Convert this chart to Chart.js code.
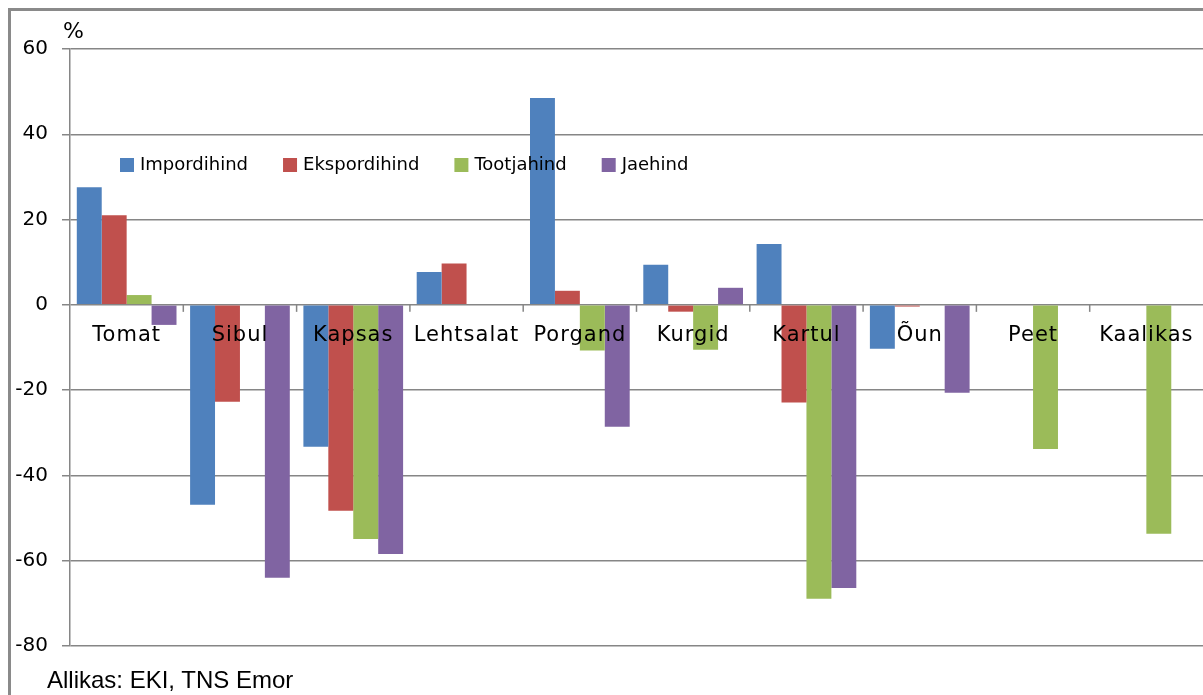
<!DOCTYPE html>
<html>
<head>
<meta charset="utf-8">
<script src="https://cdn.jsdelivr.net/npm/chart.js@4/dist/chart.umd.min.js"></script>
<style>
  body { margin: 0; background: #fff; }
  #wrap { position: relative; width: 1203px; height: 695px; overflow: hidden; }
  #frame { position: absolute; left: 8px; top: 8px; width: 1300px; height: 800px;
           border-left: 3px solid #8a8a8a; border-top: 3px solid #8a8a8a; }
  #source { position: absolute; left: 47px; top: 666px; font: 24px "Liberation Sans", Arial, sans-serif; color: #000; }
</style>
</head>
<body>
<div id="wrap">
  <div id="frame"></div>
  <canvas id="grafico" width="1203" height="695"></canvas>
  <div id="source">Allikas: EKI, TNS Emor</div>
</div>
<script>
var kategooriad = ['Tomat', 'Sibul', 'Kapsas', 'Lehtsalat', 'Porgand', 'Kurgid', 'Kartul', 'Õun', 'Peet', 'Kaalikas'];
var impordihind = [27.6, -46.9, -33.3, 7.7, 48.5, 9.4, 14.3, -10.3, null, null];
var ekspordihind = [21.0, -22.7, -48.3, 9.7, 3.3, -1.6, -22.9, -0.4, null, null];
var tootjahind = [2.3, null, -54.9, null, -10.7, -10.5, -68.9, null, -33.8, -53.7];
var jaehind = [-4.7, -64.0, -58.4, null, -28.6, 4.0, -66.4, -20.6, null, null];
var yTicks = [60, 40, 20, 0, -20, -40, -60, -80];

document.addEventListener("DOMContentLoaded", function () {
    var canvas = document.getElementById('grafico');
    var ctx = canvas.getContext('2d');

    // silte, legend ja jaotusmärgid joonistatakse otse nulljoone juurde
    var overlay = {
        id: 'overlay',
        afterDatasetsDraw: function (chart) {
            var c = chart.ctx, area = chart.chartArea;
            var x = chart.scales.x, y = chart.scales.y;
            var y0 = y.getPixelForValue(0);
            c.save();
            c.strokeStyle = '#868686';
            c.lineWidth = 1.5;
            for (var i = 1; i < kategooriad.length; i++) {
                var px = (x.getPixelForValue(i - 1) + x.getPixelForValue(i)) / 2;
                c.beginPath();
                c.moveTo(px, y0);
                c.lineTo(px, y0 + 7);
                c.stroke();
            }
            c.fillStyle = '#000';
            c.font = '21px "DejaVu Sans"';
            c.letterSpacing = '1px';
            c.textAlign = 'center';
            c.textBaseline = 'middle';
            kategooriad.forEach(function (k, i) {
                c.fillText(k, x.getPixelForValue(i), y0 + 31);
            });

            // legend
            c.textAlign = 'left';
            c.font = '18px "DejaVu Sans"';
            c.letterSpacing = '0px';
            var lx = area.left + 50, ly = 165;
            chart.data.datasets.forEach(function (ds) {
                c.fillStyle = ds.backgroundColor;
                c.fillRect(lx, ly - 7, 14, 14);
                c.fillStyle = '#000';
                c.fillText(ds.label, lx + 20, ly);
                lx += 20 + c.measureText(ds.label).width + 35;
            });

            c.font = '22px "DejaVu Sans"';
            c.fillText('%', area.left - 7, area.top - 17);
            c.restore();
        }
    };

    new Chart(ctx, {
        type: 'bar',
        data: {
            labels: kategooriad,
            datasets: [
                { label: 'Impordihind', data: impordihind, backgroundColor: '#4F81BD' },
                { label: 'Ekspordihind', data: ekspordihind, backgroundColor: '#C0504D' },
                { label: 'Tootjahind', data: tootjahind, backgroundColor: '#9BBB59' },
                { label: 'Jaehind', data: jaehind, backgroundColor: '#8064A2' }
            ]
        },
        options: {
            responsive: false,
            animation: false,
            layout: { padding: { left: 10, top: 49, right: 0, bottom: 49 } },
            datasets: { bar: { categoryPercentage: 0.88, barPercentage: 1.0 } },
            plugins: {
                legend: { display: false },
                tooltip: { enabled: false }
            },
            scales: {
                x: { display: false },
                y: {
                    min: -80,
                    max: 60,
                    afterFit: function (s) { s.width = 60; },
                    afterBuildTicks: function (s) {
                        s.ticks = yTicks.map(function (v) { return { value: v }; });
                    },
                    grid: { color: '#868686', lineWidth: 1.5, tickLength: 8 },
                    border: { color: '#868686', width: 1.5 },
                    ticks: {
                        padding: 14,
                        color: '#000',
                        font: { family: 'DejaVu Sans', size: 20 }
                    }
                }
            }
        },
        plugins: [overlay]
    });
});
</script>
</body>
</html>
